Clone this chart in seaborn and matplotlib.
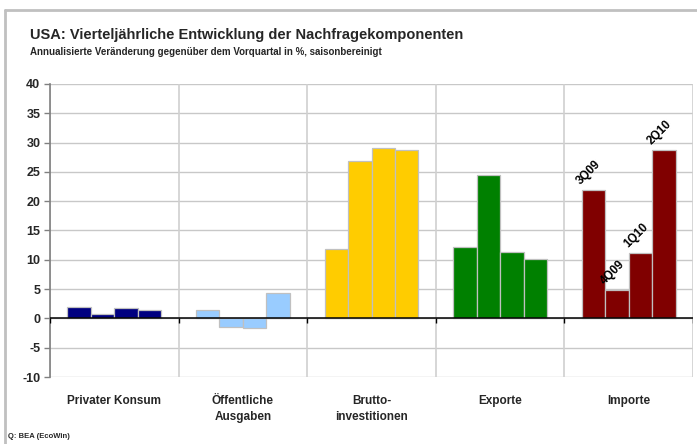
import matplotlib
matplotlib.use("Agg")
import matplotlib.pyplot as plt
import seaborn as sns
import pandas as pd
from matplotlib.lines import Line2D

categories = ["Privater Konsum", "Öffentliche\nAusgaben", "Brutto-\ninvestitionen", "Exporte", "Importe"]
quarters = ["3Q09", "4Q09", "1Q10", "2Q10"]
privater_konsum = [1.9, 0.8, 1.8, 1.5]
oeffentliche_ausgaben = [1.5, -1.4, -1.7, 4.4]
bruttoinvestitionen = [11.8, 26.8, 29.1, 28.8]
exporte = [12.2, 24.4, 11.3, 10.2]
importe = [21.9, 4.8, 11.2, 28.8]
cat_colors = ["#000080", "#99CCFF", "#FFCC00", "#008000", "#800000"]

series = [privater_konsum, oeffentliche_ausgaben, bruttoinvestitionen, exporte, importe]
rows = []
for cat, vals in zip(categories, series):
    for q, v in zip(quarters, vals):
        rows.append({"cat": cat, "quarter": q, "value": v})
df = pd.DataFrame(rows)

sns.set_theme(style="white")
plt.rcParams["font.family"] = ["Liberation Sans", "DejaVu Sans"]
plt.rcParams["font.weight"] = "bold"

fig = plt.figure(figsize=(6.97, 4.44), dpi=100)
fig.patch.set_facecolor("white")
ax = fig.add_axes([50 / 697, 67 / 444, 643 / 697, 293 / 444])

sns.barplot(data=df, x="cat", y="value", hue="quarter", order=categories,
            hue_order=quarters, dodge=True, width=0.73, legend=False,
            edgecolor="#C0C0C0", linewidth=0.9, ax=ax, errorbar=None)

for cont in ax.containers:
    for i, bar in enumerate(cont):
        bar.set_facecolor(cat_colors[i])
        bar.set_alpha(1)

# labels on import bars
imp_idx = len(categories) - 1
for qi, cont in enumerate(ax.containers):
    bar = cont[imp_idx]
    x = bar.get_x() + bar.get_width() * 0.05
    y = bar.get_height() + 0.5
    ax.text(x, y, quarters[qi], rotation=45, rotation_mode="anchor",
            ha="left", va="bottom", fontsize=8.5, fontweight="bold", color="black")

ax.set_xlim(-0.5, len(categories) - 0.5)
ax.set_ylim(-10, 40)
ax.set_yticks(range(-10, 41, 5))
ax.set_yticklabels([str(v) for v in range(-10, 41, 5)], fontsize=9, fontweight="bold")
ax.set_xticks(range(len(categories)))
ax.set_xticklabels(categories, fontsize=8.5, fontweight="bold", va="top", linespacing=1.45)
ax.tick_params(axis="x", length=0, pad=13)
ax.tick_params(axis="y", direction="out", length=4, width=1, color="#808080", pad=3, left=True)
ax.set_xlabel("")
ax.set_ylabel("")

ax.set_axisbelow(True)
for v in range(-10, 41, 5):
    ax.axhline(v, color="#C8C8C8", lw=1, zorder=0)
for b in [i + 0.5 for i in range(-1, len(categories))]:
    ax.axvline(b, color="#D0D0D0", lw=1.2, zorder=0)
    ax.vlines(b, -0.7, 0, color="black", lw=1, zorder=3)
ax.axhline(0, color="black", lw=1.1, zorder=3)

for s in ["top", "right", "bottom"]:
    ax.spines[s].set_visible(False)
ax.spines["left"].set_color("#808080")
ax.spines["left"].set_linewidth(1.2)

fig.text(30 / 697, 1 - 35 / 444, "USA: Vierteljährliche Entwicklung der Nachfragekomponenten",
         fontsize=10.5, fontweight="bold", ha="left", va="center")
fig.text(30 / 697, 1 - 52 / 444, "Annualisierte Veränderung gegenüber dem Vorquartal in %, saisonbereinigt",
         fontsize=7, fontweight="bold", ha="left", va="center")
fig.text(8 / 697, 1 - 436 / 444, "Q: BEA (EcoWin)", fontsize=5.5, fontweight="bold",
         ha="left", va="center")

fig.add_artist(Line2D([5 / 697, 5 / 697], [0, 1 - 10 / 444], transform=fig.transFigure,
                      color="#C0C0C0", lw=2))
fig.add_artist(Line2D([5 / 697, 1], [1 - 10 / 444, 1 - 10 / 444], transform=fig.transFigure,
                      color="#C0C0C0", lw=2))

fig.savefig("out.png", dpi=100, facecolor="white")
